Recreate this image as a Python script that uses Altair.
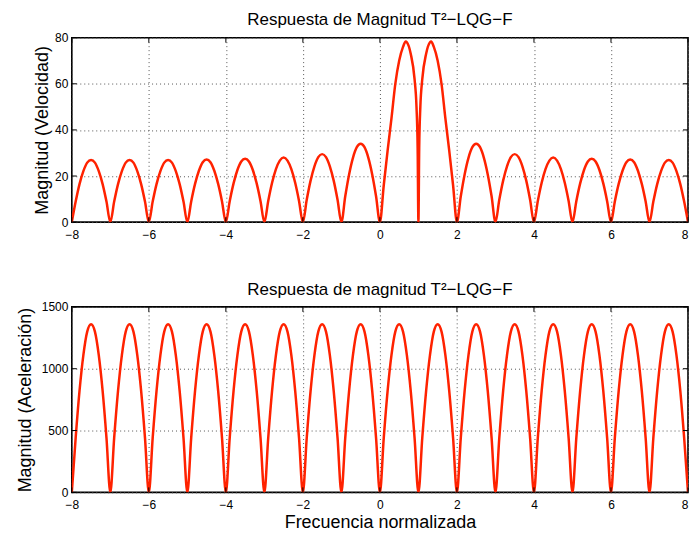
import altair as alt
import pandas as pd

# ---------------- data ----------------
# Top panel: velocity magnitude. x grid of 0.1 on [-8, 0), custom points on [0, 2), 0.1 grid on [2, 8]
top_x_left = [round(-8 + 0.1 * i, 1) for i in range(80)]
top_y_left = [
    0, 8.9, 16.5, 22.1, 25.8, 27.0, 25.8, 22.1, 16.5, 8.9,     # -8 .. -7
    0, 8.9, 16.5, 22.1, 25.8, 27.0, 25.8, 22.1, 16.5, 8.9,     # -7 .. -6
    0, 8.9, 16.5, 22.1, 25.8, 27.0, 25.8, 22.1, 16.5, 8.9,     # -6 .. -5
    0, 9.0, 16.6, 22.3, 26.0, 27.2, 26.0, 22.3, 16.6, 9.0,     # -5 .. -4
    0, 9.1, 16.8, 22.6, 26.3, 27.5, 26.3, 22.6, 16.8, 9.1,     # -4 .. -3
    0, 9.2, 17.1, 23.0, 26.7, 28.0, 26.7, 23.0, 17.1, 9.2,     # -3 .. -2
    0, 9.7, 18.0, 24.2, 28.2, 29.5, 28.2, 24.2, 18.0, 9.7,     # -2 .. -1
    0, 11.2, 20.7, 27.9, 32.5, 34.0, 32.5, 27.9, 20.7, 11.2,   # -1 .. 0
]
top_x_center = [0.0, 0.1, 0.2, 0.3, 0.4, 0.5, 0.6, 0.67, 0.7, 0.8, 0.9, 0.95, 0.98, 1.0,
                1.02, 1.05, 1.1, 1.2, 1.3, 1.33, 1.4, 1.5, 1.6, 1.7, 1.8, 1.9]
top_y_center = [0, 16, 31, 45, 60, 70, 76, 78.3, 78, 73, 62, 50, 32, 0,
                32, 50, 62, 73, 78, 78.3, 76, 70, 60, 45, 31, 16]
top_x_right = [round(2 + 0.1 * i, 1) for i in range(61)]
top_y_right = [
    0, 11.2, 20.7, 27.9, 32.5, 34.0, 32.5, 27.9, 20.7, 11.2,   # 2 .. 3
    0, 9.7, 18.0, 24.2, 28.2, 29.5, 28.2, 24.2, 18.0, 9.7,     # 3 .. 4
    0, 9.2, 17.1, 23.0, 26.7, 28.0, 26.7, 23.0, 17.1, 9.2,     # 4 .. 5
    0, 9.1, 16.8, 22.6, 26.3, 27.5, 26.3, 22.6, 16.8, 9.1,     # 5 .. 6
    0, 9.0, 16.6, 22.3, 26.0, 27.2, 26.0, 22.3, 16.6, 9.0,     # 6 .. 7
    0, 8.9, 16.5, 22.1, 25.8, 27.0, 25.8, 22.1, 16.5, 8.9,     # 7 .. 8
    0,
]

# Bottom panel: acceleration magnitude, 0.1 grid on [-8, 8]
bot_x = [round(-8 + 0.1 * i, 1) for i in range(161)]
bot_y = [
    0, 440, 820, 1110, 1300, 1360, 1300, 1110, 820, 440,   # -8 .. -7
    0, 440, 820, 1110, 1300, 1360, 1300, 1110, 820, 440,   # -7 .. -6
    0, 440, 820, 1110, 1300, 1360, 1300, 1110, 820, 440,   # -6 .. -5
    0, 440, 820, 1110, 1300, 1360, 1300, 1110, 820, 440,   # -5 .. -4
    0, 440, 820, 1110, 1300, 1360, 1300, 1110, 820, 440,   # -4 .. -3
    0, 440, 820, 1110, 1300, 1360, 1300, 1110, 820, 440,   # -3 .. -2
    0, 440, 820, 1110, 1300, 1360, 1300, 1110, 820, 440,   # -2 .. -1
    0, 440, 820, 1110, 1300, 1360, 1300, 1110, 820, 440,   # -1 .. 0
    0, 440, 820, 1110, 1300, 1360, 1300, 1110, 820, 440,   # 0 .. 1
    0, 440, 820, 1110, 1300, 1360, 1300, 1110, 820, 440,   # 1 .. 2
    0, 440, 820, 1110, 1300, 1360, 1300, 1110, 820, 440,   # 2 .. 3
    0, 440, 820, 1110, 1300, 1360, 1300, 1110, 820, 440,   # 3 .. 4
    0, 440, 820, 1110, 1300, 1360, 1300, 1110, 820, 440,   # 4 .. 5
    0, 440, 820, 1110, 1300, 1360, 1300, 1110, 820, 440,   # 5 .. 6
    0, 440, 820, 1110, 1300, 1360, 1300, 1110, 820, 440,   # 6 .. 7
    0, 440, 820, 1110, 1300, 1360, 1300, 1110, 820, 440,   # 7 .. 8
    0,
]

x_ticks = [-8, -6, -4, -2, 0, 2, 4, 6, 8]
top_y_ticks = [0, 20, 40, 60, 80]
bot_y_ticks = [0, 500, 1000, 1500]

top_title = "Respuesta de Magnitud T²−LQG−F"
bot_title = "Respuesta de magnitud T²−LQG−F"
top_ytitle = "Magnitud (Velocidad)"
bot_ytitle = "Magnitud (Aceleración)"
xtitle = "Frecuencia normalizada"

# ---------------- chart ----------------
top_df = pd.DataFrame({"x": top_x_left + top_x_center + top_x_right,
                       "y": top_y_left + top_y_center + top_y_right})
bot_df = pd.DataFrame({"x": bot_x, "y": bot_y})
xt_df = pd.DataFrame({"x": x_ticks})

FONT = "Liberation Sans"
LINE = "#ff2200"
W = 618
TL = 5  # inward tick length


def panel(df, title, ytitle, ydom, yticks, xt, tpad, H, toff):
    xscale = alt.Scale(domain=[-8, 8], nice=False, zero=False)
    yscale = alt.Scale(domain=ydom, nice=False, zero=False)
    xaxis_kw = dict(values=x_ticks, ticks=False, labelPadding=7, labelFlush=False,
                    labelAlign={"condition": {"test": "datum.value == 8", "value": "right"},
                                "value": "center"})
    if xt:
        xaxis = alt.Axis(title=xt, titlePadding=3, **xaxis_kw)
    else:
        xaxis = alt.Axis(title=None, **xaxis_kw)
    yaxis = alt.Axis(values=yticks, title=ytitle, ticks=False, labelPadding=4,
                     titlePadding=tpad, labelFlush=False, format="d")
    line = alt.Chart(df).mark_line(color=LINE, strokeWidth=2.5, clip=True,
                                   interpolate="monotone").encode(
        x=alt.X("x:Q", scale=xscale, axis=xaxis),
        y=alt.Y("y:Q", scale=yscale, axis=yaxis),
    )
    yt_df = pd.DataFrame({"y": yticks})
    tick_top = alt.Chart(xt_df).mark_rule(color="black", strokeWidth=1).encode(
        x=alt.X("x:Q", scale=xscale, axis=xaxis), y=alt.value(0), y2=alt.value(TL))
    tick_bot = alt.Chart(xt_df).mark_rule(color="black", strokeWidth=1).encode(
        x=alt.X("x:Q", scale=xscale, axis=xaxis), y=alt.value(H - TL), y2=alt.value(H))
    tick_left = alt.Chart(yt_df).mark_rule(color="black", strokeWidth=1).encode(
        y=alt.Y("y:Q", scale=yscale, axis=yaxis), x=alt.value(0), x2=alt.value(TL))
    tick_right = alt.Chart(yt_df).mark_rule(color="black", strokeWidth=1).encode(
        y=alt.Y("y:Q", scale=yscale, axis=yaxis), x=alt.value(W - TL), x2=alt.value(W))
    return alt.layer(line, tick_top, tick_bot, tick_left, tick_right).properties(
        width=W, height=H,
        title=alt.TitleParams(title, fontSize=17, font=FONT, fontWeight="normal",
                              offset=toff, color="black"))


top = panel(top_df, top_title, top_ytitle, [0, 80], top_y_ticks, None, 3, 185, 3)
bot = panel(bot_df, bot_title, bot_ytitle, [0, 1500], bot_y_ticks, xtitle, 7, 186, 2)

chart = alt.vconcat(top, bot, spacing=39).properties(
    padding={"left": 7, "top": 1, "right": 0, "bottom": 0}
).configure_view(
    stroke="black", strokeWidth=1.6
).configure_axis(
    labelFont=FONT, labelFontSize=12, labelColor="black",
    titleFont=FONT, titleFontSize=18, titleFontWeight="normal", titleColor="black",
    domain=False, grid=True, gridColor="#555555", gridDash=[1, 3], gridWidth=1,
)

chart.save("out.html", embed_options={"renderer": "svg", "actions": False})
